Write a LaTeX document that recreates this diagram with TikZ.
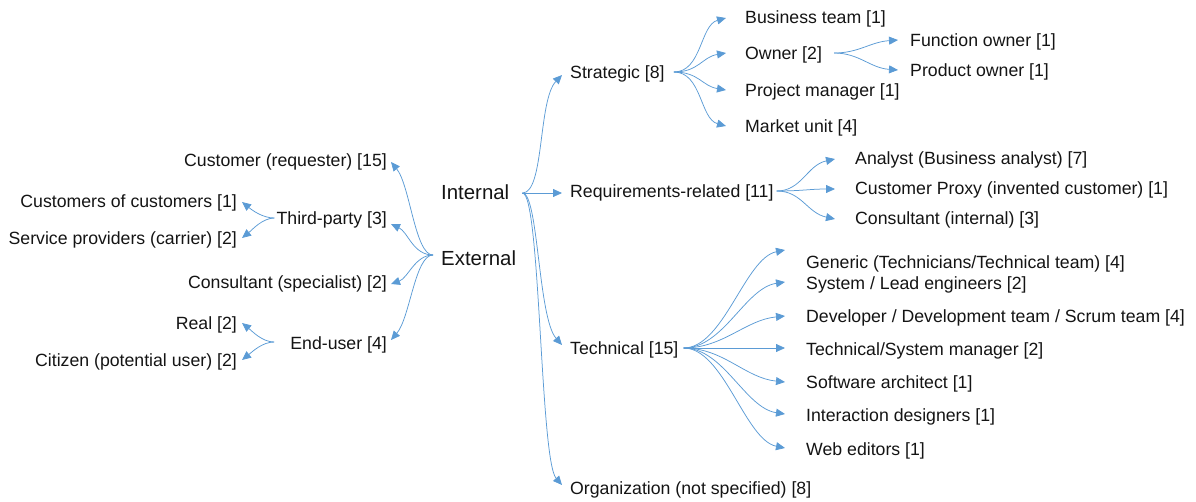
\documentclass[tikz,border=0pt]{standalone}
\usepackage{fontspec}
\setmainfont{Liberation Sans}
\usetikzlibrary{arrows.meta}
\definecolor{edgeblue}{RGB}{91,155,213}
\definecolor{txt}{RGB}{20,20,20}
\begin{document}
\begin{tikzpicture}[x=1pt,y=-1pt,
  lbl/.style={inner sep=0pt, text height=12.67pt, text depth=0pt, text=txt, font=\fontsize{17.7}{20}\selectfont},
  big/.style={inner sep=0pt, text height=14.6pt, text depth=0pt, text=txt, font=\fontsize{20.4}{24}\selectfont},
  conn/.style={draw=edgeblue, line width=0.75pt, -{Triangle[length=9pt,width=8pt]}}]
\useasboundingbox (0,0) rectangle (1196,501);

% root nodes
\node[big, anchor=west] (int) at (441,192) {Internal};
\node[big, anchor=west] (ext) at (441,258) {External};

% internal children
\node[lbl, anchor=west] (strat) at (570,72) {Strategic [8]};
\node[lbl, anchor=west] (req) at (570,191) {Requirements-related [11]};
\node[lbl, anchor=west] (tech) at (570,348) {Technical [15]};
\node[lbl, anchor=west] (org) at (570,488) {Organization (not specified) [8]};

% strategic children
\node[lbl, anchor=west] (bt) at (745,17) {Business team [1]};
\node[lbl, anchor=west] (own) at (745,53) {Owner [2]};
\node[lbl, anchor=west] (pm) at (745,90) {Project manager [1]};
\node[lbl, anchor=west] (mu) at (745,126) {Market unit [4]};
\node[lbl, anchor=west] (fo) at (910,40) {Function owner [1]};
\node[lbl, anchor=west] (po) at (910,70) {Product owner [1]};

% requirements children
\node[lbl, anchor=west] (an) at (855,158) {Analyst (Business analyst) [7]};
\node[lbl, anchor=west] (cp) at (855,188) {Customer Proxy (invented customer) [1]};
\node[lbl, anchor=west] (ci) at (855,218) {Consultant (internal) [3]};

% technical children
\node[lbl, anchor=west] (gen) at (806,262) {Generic (Technicians/Technical team) [4]};
\node[lbl, anchor=west] (sys) at (806,283) {System / Lead engineers [2]};
\node[lbl, anchor=west] (dev) at (806,316) {Developer / Development team / Scrum team [4]};
\node[lbl, anchor=west] (tsm) at (806,349) {Technical/System manager [2]};
\node[lbl, anchor=west] (sa) at (806,382) {Software architect [1]};
\node[lbl, anchor=west] (idz) at (806,415) {Interaction designers [1]};
\node[lbl, anchor=west] (we) at (806,449) {Web editors [1]};

% external children
\node[lbl, anchor=east] (cust) at (387,160) {Customer (requester) [15]};
\node[lbl, anchor=east] (third) at (387,218) {Third-party [3]};
\node[lbl, anchor=east] (cons) at (387,282) {Consultant (specialist) [2]};
\node[lbl, anchor=east] (enduser) at (387,343) {End-user [4]};
\node[lbl, anchor=east] (cc) at (237,201) {Customers of customers [1]};
\node[lbl, anchor=east] (sp) at (237,238) {Service providers (carrier) [2]};
\node[lbl, anchor=east] (real) at (237,323) {Real [2]};
\node[lbl, anchor=east] (cit) at (237,360) {Citizen (potential user) [2]};

% Internal -> children
\draw[conn] ([shift={(13,1)}]int.east) .. controls +(22,0) and +(-24,25) .. ([shift={(-8,3)}]strat.west);
\draw[conn] ([shift={(13,1)}]int.east) -- ([shift={(-8,2)}]req.west);
\draw[conn] ([shift={(13,1)}]int.east) .. controls +(16,0) and +(-24,-27) .. ([shift={(-8,-3)}]tech.west);
\draw[conn] ([shift={(13,1)}]int.east) .. controls +(18,0) and +(-22,-25) .. ([shift={(-8,-3)}]org.west);

% External -> children
\draw[conn] ([shift={(-8,-3)}]ext.west) .. controls +(-18,0) and +(19,23) .. ([shift={(4,2)}]cust.east);
\draw[conn] ([shift={(-8,-3)}]ext.west) .. controls +(-20,0) and +(17,8) .. ([shift={(4,6)}]third.east);
\draw[conn] ([shift={(-8,-3)}]ext.west) .. controls +(-18,0) and +(17,-6) .. ([shift={(4,2)}]cons.east);
\draw[conn] ([shift={(-8,-3)}]ext.west) .. controls +(-18,0) and +(19,-22) .. ([shift={(4,-3)}]enduser.east);

% Third-party / End-user -> children
\draw[conn] ([shift={(-2,0)}]third.west) .. controls +(-12,0) and +(10,8) .. ([shift={(5,1)}]cc.east);
\draw[conn] ([shift={(-2,0)}]third.west) .. controls +(-12,0) and +(10,-8) .. ([shift={(5,0)}]sp.east);
\draw[conn] ([shift={(-16,-1)}]enduser.west) .. controls +(-12,0) and +(10,8) .. ([shift={(5,0)}]real.east);
\draw[conn] ([shift={(-16,-1)}]enduser.west) .. controls +(-12,0) and +(10,-8) .. ([shift={(5,0)}]cit.east);

% Strategic -> children
\draw[conn] ([shift={(9,0)}]strat.east) .. controls +(28,0) and +(-26,7) .. ([shift={(-19,1)}]bt.west);
\draw[conn] ([shift={(9,0)}]strat.east) .. controls +(25,0) and +(-24,4) .. ([shift={(-19,0)}]own.west);
\draw[conn] ([shift={(9,0)}]strat.east) .. controls +(25,0) and +(-24,-4) .. ([shift={(-19,0)}]pm.west);
\draw[conn] ([shift={(9,0)}]strat.east) .. controls +(28,0) and +(-26,-7) .. ([shift={(-19,0)}]mu.west);

% Owner -> children
\draw[conn] ([shift={(12,0)}]own.east) .. controls +(25,0) and +(-28,2) .. ([shift={(-12,0)}]fo.west);
\draw[conn] ([shift={(12,0)}]own.east) .. controls +(25,0) and +(-28,-2) .. ([shift={(-12,0)}]po.west);

% Requirements -> children
\draw[conn] ([shift={(3,0)}]req.east) .. controls +(25,0) and +(-28,6) .. ([shift={(-20,1)}]an.west);
\draw[conn] ([shift={(3,0)}]req.east) .. controls +(25,0) and +(-25,0) .. ([shift={(-20,1)}]cp.west);
\draw[conn] ([shift={(3,0)}]req.east) .. controls +(25,0) and +(-28,-6) .. ([shift={(-20,1)}]ci.west);

% Technical -> children
\draw[conn] ([shift={(5,0)}]tech.east) .. controls +(40,0) and +(-40,8) .. ([shift={(-21,-12)}]gen.west);
\draw[conn] ([shift={(5,0)}]tech.east) .. controls +(40,0) and +(-40,6) .. ([shift={(-21,-1)}]sys.west);
\draw[conn] ([shift={(5,0)}]tech.east) .. controls +(40,0) and +(-40,4) .. ([shift={(-21,0)}]dev.west);
\draw[conn] ([shift={(5,0)}]tech.east) -- ([shift={(-21,-1)}]tsm.west);
\draw[conn] ([shift={(5,0)}]tech.east) .. controls +(40,0) and +(-40,-4) .. ([shift={(-21,0)}]sa.west);
\draw[conn] ([shift={(5,0)}]tech.east) .. controls +(40,0) and +(-40,-6) .. ([shift={(-21,-1)}]idz.west);
\draw[conn] ([shift={(5,0)}]tech.east) .. controls +(40,0) and +(-40,-8) .. ([shift={(-21,-1)}]we.west);
\end{tikzpicture}
\end{document}
